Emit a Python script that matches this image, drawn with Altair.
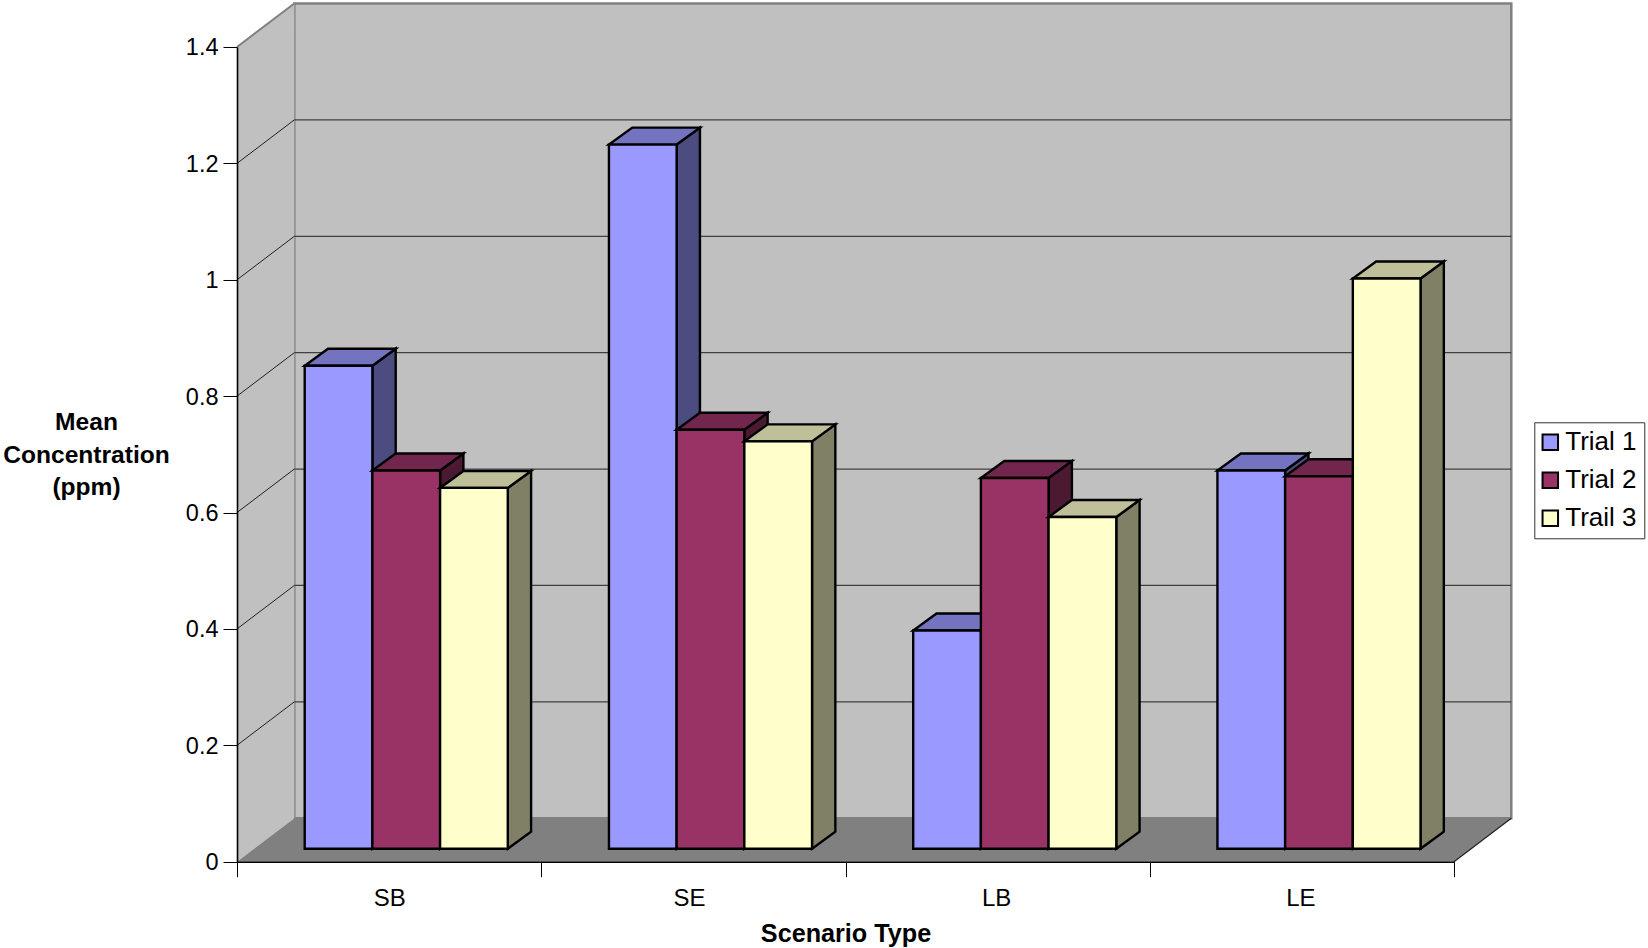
import altair as alt
import pandas as pd

# Measured concentrations per scenario
scenarios = ["SB", "SE", "LB", "LE"]
series_names = ["Trial 1", "Trial 2", "Trail 3"]
trial_1 = [0.83, 1.21, 0.375, 0.65]
trial_2 = [0.65, 0.72, 0.637, 0.64]
trail_3 = [0.62, 0.70, 0.57, 0.98]
series_values = [trial_1, trial_2, trail_3]

front_colors = ["#9999FF", "#993366", "#FFFFCC"]
top_colors = ["#7373BF", "#73264D", "#BFBF99"]
side_colors = ["#4C4C80", "#4C1933", "#808066"]

y_ticks = [0, 0.2, 0.4, 0.6, 0.8, 1, 1.2, 1.4]
x_tick_positions = [0, 1, 2, 3, 4]
x_label_positions = [0.5, 1.486, 2.495, 3.495]
FONT = "Liberation Sans"
Y_MAX = 1.4
N = len(scenarios)
BAR_STROKE = 2.4

# Oblique projection: chart-unit shift of the back wall and of one bar's depth
WALL_DX, WALL_DY = 0.1883, 0.0747
BAR_DX, BAR_DY = 0.0766, 0.0292
BAR_W = 0.2225
BAR_START = 0.2225
BAR_BASE = 0.0223

X = alt.Scale(domain=[0, N], nice=False, zero=False)
Y = alt.Scale(domain=[0, Y_MAX], nice=False, zero=False)


def xq(field):
    return alt.X(f"{field}:Q", scale=X)


def yq(field):
    return alt.Y(f"{field}:Q", scale=Y)


# Walls and floor
back_wall = alt.Chart(pd.DataFrame([{
    "x": WALL_DX, "x2": N + WALL_DX, "y": WALL_DY, "y2": Y_MAX + WALL_DY
}])).mark_rect(fill="#C0C0C0", stroke="#808080", strokeWidth=2.5).encode(
    x=xq("x"), x2="x2:Q", y=yq("y"), y2="y2:Q"
)

side_wall = alt.Chart(pd.DataFrame([
    {"x": 0, "y": 0, "y2": Y_MAX},
    {"x": WALL_DX, "y": WALL_DY, "y2": Y_MAX + WALL_DY},
])).mark_area(fill="#C0C0C0", opacity=1).encode(
    x=xq("x"), y=yq("y"), y2="y2:Q"
)

floor = alt.Chart(pd.DataFrame([
    {"y": 0, "x": 0, "x2": N},
    {"y": WALL_DY, "x": WALL_DX, "x2": N + WALL_DX},
])).mark_area(fill="#808080", opacity=1, orient="horizontal").encode(
    y=yq("y"), x=xq("x"), x2="x2:Q"
)

# Gridlines: a run along the back wall and a diagonal across the side wall
grid_df = pd.DataFrame({"v": [t for t in y_ticks if 0 < t < Y_MAX]})
grid_df["x0"] = WALL_DX
grid_df["x1"] = N + WALL_DX
grid_df["yb"] = grid_df["v"] + WALL_DY
grid_df["dx0"] = 0.0

grid_back = alt.Chart(grid_df).mark_rule(color="#404040", strokeWidth=1.2).encode(
    x=xq("x0"), x2="x1:Q", y=yq("yb")
)
grid_side = alt.Chart(grid_df).mark_rule(color="#202020", strokeWidth=1).encode(
    x=xq("dx0"), x2="x0:Q", y=yq("v"), y2="yb:Q"
)

top_edge = alt.Chart(pd.DataFrame([
    {"x": 0, "x2": WALL_DX, "y": Y_MAX, "y2": Y_MAX + WALL_DY}
])).mark_rule(color="#808080", strokeWidth=2).encode(
    x=xq("x"), x2="x2:Q", y=yq("y"), y2="y2:Q"
)
floor_edge = alt.Chart(pd.DataFrame([
    {"x": N, "x2": N + WALL_DX, "y": 0, "y2": WALL_DY}
])).mark_rule(color="#202020", strokeWidth=1.2).encode(
    x=xq("x"), x2="x2:Q", y=yq("y"), y2="y2:Q"
)

# Axes carry the ticks; category names sit between the tick positions
label_expr = (
    "datum.value % 1 == 0 ? '' : "
    + str(scenarios)
    + "[floor(datum.value)]"
)
x_axis = alt.Axis(
    values=sorted(x_tick_positions + x_label_positions),
    grid=False,
    domainColor="#000000",
    domainWidth=1.4,
    tickColor="#000000",
    tickWidth=1,
    tickSize=15,
    tickOpacity={"condition": {"test": "datum.value % 1 == 0", "value": 1}, "value": 0},
    labelExpr=label_expr,
    labelFont=FONT,
    labelFontSize=24,
    labelColor="#000000",
    labelPadding=10,
    labelOverlap=False,
    labelFlush=False,
    title="Scenario Type",
    titleFont=FONT,
    titleFontSize=25.2,
    titleFontWeight="bold",
    titleColor="#000000",
    titlePadding=11,
    zindex=1,
)
y_axis = alt.Axis(
    values=y_ticks,
    grid=False,
    format="~g",
    domainColor="#000000",
    domainWidth=1.6,
    tickColor="#000000",
    tickWidth=1,
    tickSize=14,
    labelFont=FONT,
    labelFontSize=23.5,
    labelColor="#000000",
    labelPadding=5,
    labelOffset=1,
    title=["Mean", "Concentration", "(ppm)"],
    titleFont=FONT,
    titleFontSize=24.6,
    titleFontWeight="bold",
    titleColor="#000000",
    titleAngle=0,
    titleAlign="center",
    titleBaseline="middle",
    titleLineHeight=32.3,
    titleX=-151,
    titleY=376,
    zindex=1,
)
axes = alt.Chart(pd.DataFrame({"x": [0], "y": [0]})).mark_point(opacity=0).encode(
    x=alt.X("x:Q", scale=X, axis=x_axis),
    y=alt.Y("y:Q", scale=Y, axis=y_axis),
)

# Bars: each series draws its side, top and front so later bars cover earlier sides
color_scale = alt.Scale(domain=series_names, range=front_colors)
legend = alt.Legend(
    title=None,
    orient="none",
    legendX=1297.3,
    legendY=375.3,
    fillColor="#FFFFFF",
    strokeColor="#303030",
    padding=7,
    symbolType="square",
    symbolSize=240,
    symbolOffset=-4,
    symbolStrokeColor="#000000",
    symbolStrokeWidth=2,
    labelFont=FONT,
    labelFontSize=26,
    labelColor="#000000",
    labelOffset=2,
    rowPadding=12,
    labelLimit=200,
)

bar_layers = []
for s, (name, values) in enumerate(zip(series_names, series_values)):
    fronts, sides, tops = [], [], []
    for i, v in enumerate(values):
        left = i + BAR_START + s * BAR_W
        right = left + BAR_W
        base = BAR_BASE
        top = BAR_BASE + v
        fronts.append({"series": name, "x": left, "x2": right, "y": base, "y2": top})
        sides.append({"bar": i, "x": right, "y": base, "y2": top})
        sides.append({"bar": i, "x": right + BAR_DX, "y": base + BAR_DY, "y2": top + BAR_DY})
        tops.append({"bar": i, "y": top, "x": left, "x2": right})
        tops.append({"bar": i, "y": top + BAR_DY, "x": left + BAR_DX, "x2": right + BAR_DX})

    side = alt.Chart(pd.DataFrame(sides)).mark_area(
        fill=side_colors[s], stroke="#000000", strokeWidth=BAR_STROKE, opacity=1
    ).encode(x=xq("x"), y=yq("y"), y2="y2:Q", detail="bar:N")
    cap = alt.Chart(pd.DataFrame(tops)).mark_area(
        fill=top_colors[s], stroke="#000000", strokeWidth=BAR_STROKE, opacity=1, orient="horizontal"
    ).encode(y=yq("y"), x=xq("x"), x2="x2:Q", detail="bar:N")
    front = alt.Chart(pd.DataFrame(fronts)).mark_rect(
        stroke="#000000", strokeWidth=BAR_STROKE, opacity=1
    ).encode(
        x=xq("x"), x2="x2:Q", y=yq("y"), y2="y2:Q",
        color=alt.Color("series:N", scale=color_scale, legend=legend),
    )
    bar_layers += [side, cap, front]

chart = alt.layer(
    axes, back_wall, side_wall, floor, grid_back, grid_side, top_edge, floor_edge,
    *bar_layers,
).properties(
    width=1217,
    height=814.7,
    padding={"left": 237, "top": 47, "right": 194, "bottom": 86},
    autosize=alt.AutoSizeParams(type="none"),
    background="#FFFFFF",
).configure_view(stroke=None)

chart.save("out.html", embed_options={"renderer": "svg", "actions": False})
